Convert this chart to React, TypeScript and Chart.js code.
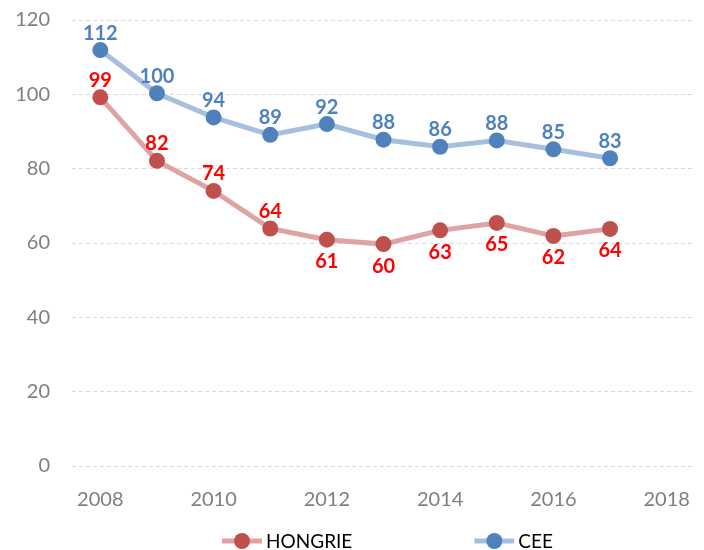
import React, { useEffect, useRef } from "react";
import { Chart, registerables } from "chart.js";

Chart.register(...registerables);

const years = [2008, 2009, 2010, 2011, 2012, 2013, 2014, 2015, 2016, 2017];
const hongrie = [99.2, 82.1, 74.0, 63.9, 60.9, 59.7, 63.4, 65.4, 61.9, 63.8];
const cee = [111.9, 100.3, 93.8, 89.1, 92.0, 87.8, 85.9, 87.6, 85.2, 82.8];
const xTickYears = [2008, 2010, 2012, 2014, 2016, 2018];
const yTicks = [0, 20, 40, 60, 80, 100, 120];
const seriesNames = ["HONGRIE", "CEE"];
// label placement per point: true = below the point
const hongrieLabelBelow = [false, false, false, false, true, true, true, true, true, true];
const ceeLabelBelow = [false, false, false, false, false, false, false, false, false, false];

const FONT = "Lato, 'Open Sans', sans-serif";

const labelPlugin = {
  id: "pointLabels",
  afterDatasetsDraw(chart: any) {
    const ctx = chart.ctx;
    const colors = ["#ff0000", "#4f81bd"];
    const belows = [hongrieLabelBelow, ceeLabelBelow];
    chart.data.datasets.forEach((ds: any, i: number) => {
      const meta = chart.getDatasetMeta(i);
      ctx.save();
      ctx.font = `bold 20px ${FONT}`;
      ctx.fillStyle = colors[i];
      ctx.textAlign = "center";
      ctx.textBaseline = "middle";
      meta.data.forEach((pt: any, j: number) => {
        const v = Math.round(ds.data[j].y);
        const below = belows[i][j];
        ctx.fillText(String(v), pt.x, below ? pt.y + 22 : pt.y - 17);
      });
      ctx.restore();
    });
  },
};

const legendPlugin = {
  id: "customLegend",
  afterDraw(chart: any) {
    const ctx = chart.ctx;
    const area = chart.chartArea;
    ctx.save();
    ctx.font = `19px ${FONT}`;
    const lineW = 40;
    const gapText = 4;
    const gapItems = 122;
    const widths = chart.data.datasets.map(
      (ds: any) => lineW + gapText + ctx.measureText(ds.label).width
    );
    const total = widths.reduce((a: number, b: number) => a + b, 0) + gapItems;
    let x = (area.left + area.right) / 2 - total / 2 + 4;
    const y = 541;
    chart.data.datasets.forEach((ds: any, i: number) => {
      ctx.strokeStyle = ds.borderColor;
      ctx.lineWidth = 5;
      ctx.beginPath();
      ctx.moveTo(x, y);
      ctx.lineTo(x + lineW, y);
      ctx.stroke();
      ctx.fillStyle = ds.pointBackgroundColor;
      ctx.beginPath();
      ctx.arc(x + lineW / 2, y, 8, 0, Math.PI * 2);
      ctx.fill();
      ctx.fillStyle = "#000000";
      ctx.textAlign = "left";
      ctx.textBaseline = "middle";
      ctx.fillText(ds.label, x + lineW + gapText, y + 1);
      x += widths[i] + gapItems;
    });
    ctx.restore();
  },
};

export default function App() {
  const ref = useRef<HTMLCanvasElement | null>(null);
  useEffect(() => {
    if (!ref.current) return;
    const chart = new Chart(ref.current, {
      type: "line",
      data: {
        datasets: [
          {
            label: seriesNames[0],
            data: years.map((x, i) => ({ x, y: hongrie[i] })),
            borderColor: "#dea3a2",
            backgroundColor: "#c0504d",
            pointBackgroundColor: "#c0504d",
            pointBorderColor: "#c0504d",
            borderWidth: 5,
            pointRadius: 8,
            pointBorderWidth: 0,
            tension: 0,
          },
          {
            label: seriesNames[1],
            data: years.map((x, i) => ({ x, y: cee[i] })),
            borderColor: "#a7bfde",
            backgroundColor: "#4f81bd",
            pointBackgroundColor: "#4f81bd",
            pointBorderColor: "#4f81bd",
            borderWidth: 5,
            pointRadius: 8,
            pointBorderWidth: 0,
            tension: 0,
          },
        ],
      },
      options: {
        animation: false,
        responsive: false,
        layout: { padding: { top: 20, right: 9, left: 0, bottom: 34 } },
        plugins: { legend: { display: false }, tooltip: { enabled: false } },
        scales: {
          x: {
            type: "linear",
            min: 2007.5,
            max: 2018.5,
            grid: { display: false },
            border: { display: false },
            afterBuildTicks: (scale: any) => {
              scale.ticks = xTickYears.map((v) => ({ value: v }));
            },
            afterFit: (scale: any) => {
              scale.height = 50;
              scale.paddingLeft = 0;
              scale.paddingRight = 0;
            },
            ticks: {
              color: "#7f7f7f",
              font: { family: FONT, size: 20 },
              padding: 14,
              maxRotation: 0,
              autoSkip: false,
              callback: (v: any) => String(v),
            },
          },
          y: {
            min: 0,
            max: 120,
            afterBuildTicks: (scale: any) => {
              scale.ticks = yTicks.map((v) => ({ value: v }));
            },
            afterFit: (scale: any) => {
              scale.width = 72;
              scale.paddingTop = 0;
              scale.paddingBottom = 0;
            },
            grid: {
              color: "#d9d9d9",
              lineWidth: 1,
              drawTicks: false,
            },
            border: { display: false, dash: [4, 3] },
            ticks: {
              color: "#7f7f7f",
              font: { family: FONT, size: 20 },
              padding: 22,
              callback: (v: any) => String(v),
            },
          },
        },
      },
      plugins: [labelPlugin, legendPlugin],
    });
    return () => chart.destroy();
  }, []);
  return (
    <div style={{ position: "absolute", left: 0, top: 0, width: 704, height: 550 }}>
      <canvas ref={ref} width={704} height={550} style={{ display: "block" }} />
    </div>
  );
}
